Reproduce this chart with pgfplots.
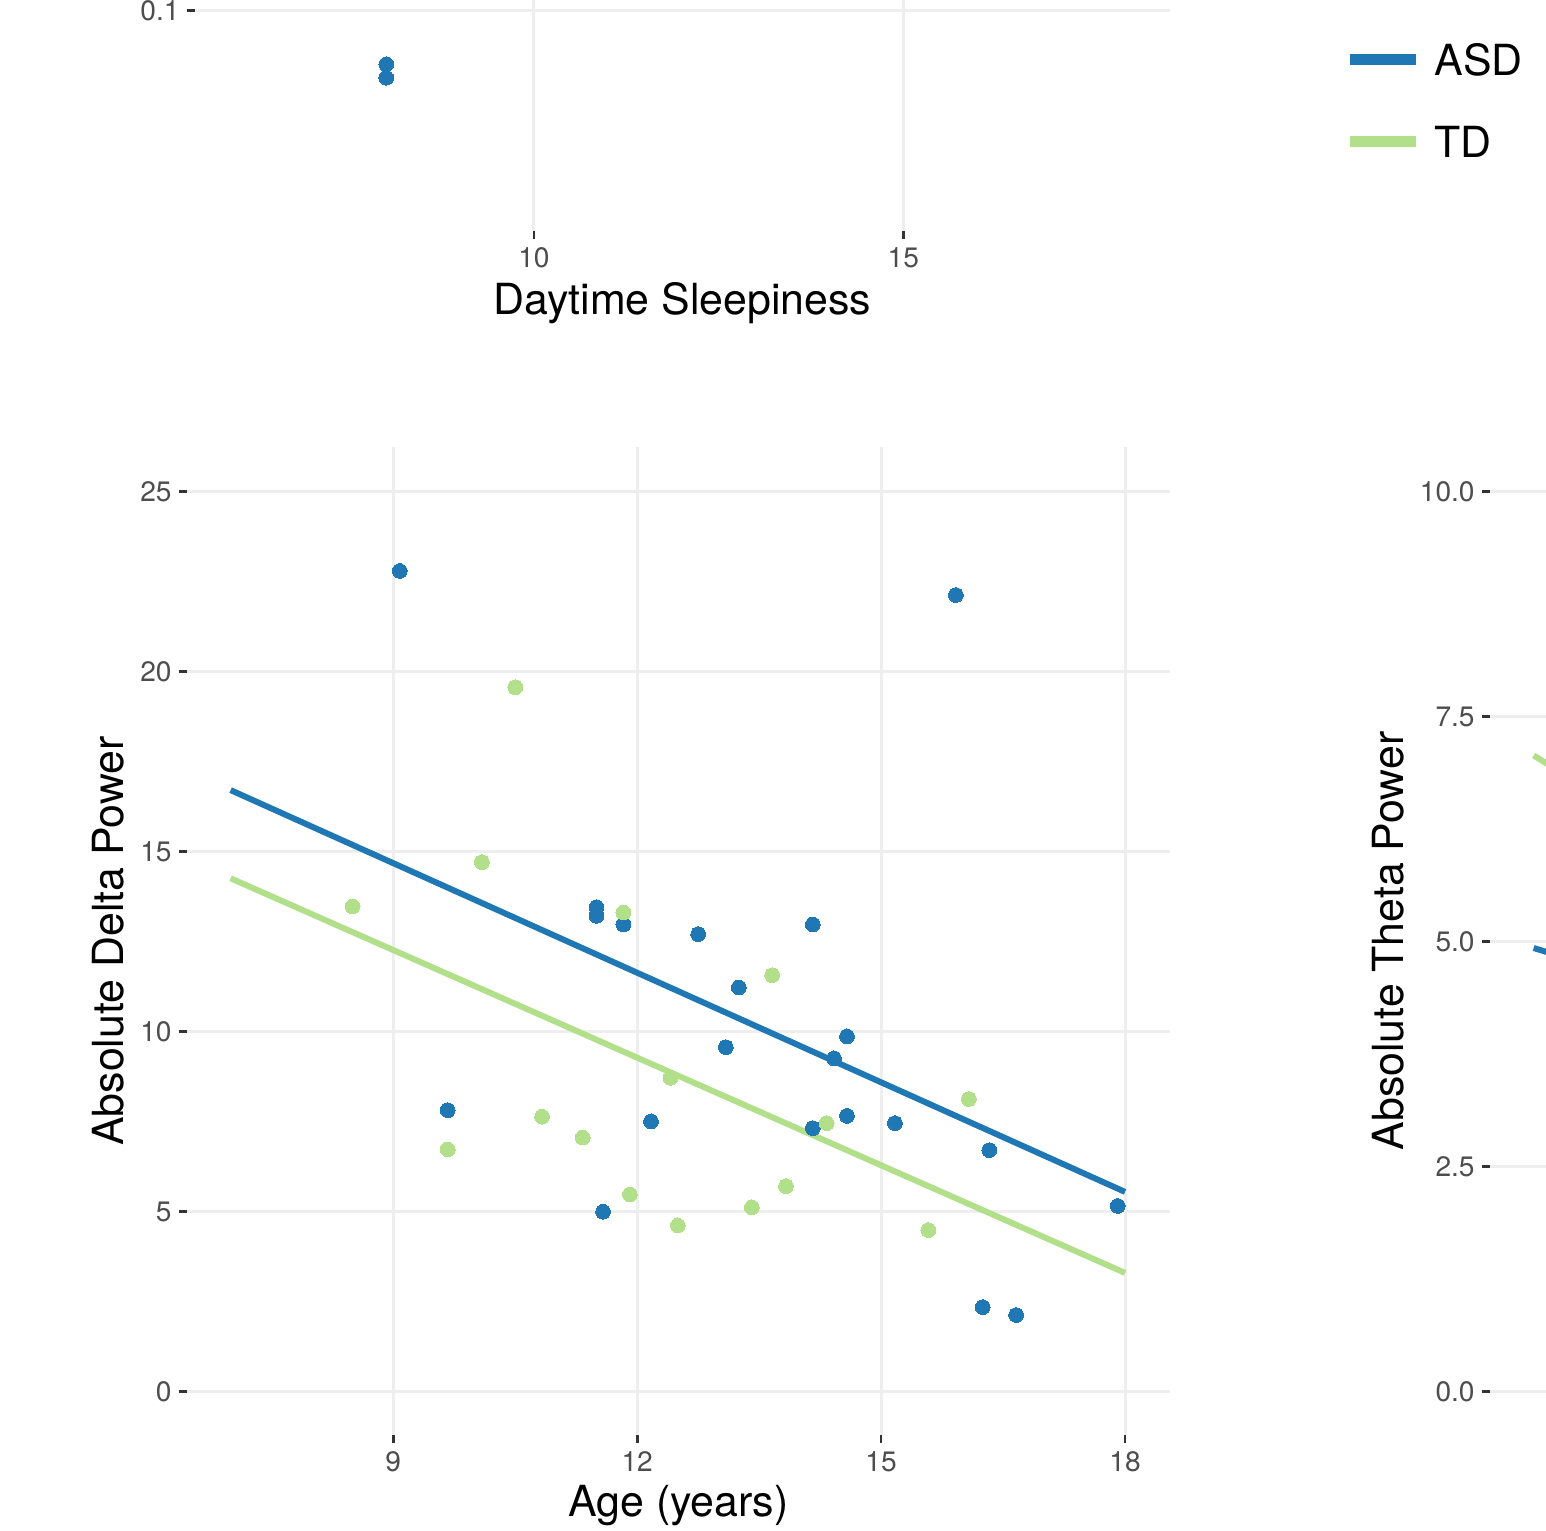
\documentclass[border=0pt]{standalone}
\usepackage{fontspec}
\setmainfont{TeX Gyre Heros}
\usepackage{pgfplots}
\pgfplotsset{compat=1.18}

\definecolor{asd}{HTML}{1F78B4}
\definecolor{td}{HTML}{B2DF8A}
\definecolor{gridc}{HTML}{EEEEEE}
\definecolor{ticklab}{HTML}{4D4D4D}
\definecolor{tickc}{HTML}{333333}

\pgfplotsset{
  gg/.style={
    scale only axis,
    axis line style={draw=none},
    grid=major,
    major grid style={gridc, line width=0.85pt},
    tick align=outside,
    xtick pos=bottom, ytick pos=left,
    major tick length=0.08cm,
    tick style={tickc, line width=0.75pt},
    tick label style={font=\fontsize{8}{9}\selectfont, text=ticklab},
    xticklabel style={yshift=0.04cm},
    yticklabel style={xshift=0.05cm},
    /pgf/number format/assume math mode=true,
    label style={font=\fontsize{12.2}{14}\selectfont, text=black},
  },
  pts/.style={only marks, mark=*, mark size=2.1pt, color=#1, mark options={solid, line width=0pt}},
  fit/.style={no marks, line width=1.7pt, color=#1},
}

% points per group (age, absolute delta power)
\pgfplotstableread{
x y
9.08 22.80
15.92 22.13
11.50 13.46
11.50 13.22
11.83 12.98
12.75 12.71
14.16 12.98
13.25 11.23
13.09 9.57
14.58 9.87
14.42 9.26
9.67 7.82
12.17 7.51
14.58 7.66
14.16 7.32
15.17 7.46
11.58 5.00
16.33 6.71
17.91 5.16
16.25 2.35
16.66 2.13
}\asddelta

\pgfplotstableread{
x y
10.50 19.57
10.09 14.71
8.50 13.48
11.83 13.31
13.66 11.57
12.41 8.72
16.08 8.13
9.67 6.73
10.83 7.64
11.33 7.06
11.91 5.48
12.50 4.62
13.41 5.12
13.83 5.71
14.33 7.46
15.58 4.49
}\tddelta

\begin{document}
\begin{tikzpicture}
\useasboundingbox (0,0) rectangle (15.46cm,-15.31cm);
\clip (0,0) rectangle (15.46cm,-15.31cm);

% top panel (daytime sleepiness), mostly cut off
\begin{axis}[gg,
  at={(1.95cm,-2.31cm)}, anchor=south west,
  width=9.75cm, height=2.81cm,
  xmin=5.411, xmax=18.610, ymin=0.07793, ymax=0.10603,
  xtick={10,15}, ytick={0.1},
  xlabel={Daytime Sleepiness},
  xlabel style={at={(axis description cs:0.5,-0.256)}, anchor=center},
  legend style={at={(axis description cs:1.1786,0.6673)}, anchor=north west,
    draw=none, fill=none, font=\fontsize{12.2}{14}\selectfont,
    inner sep=0pt, row sep=0.51cm, column sep=0.13cm,
    nodes={inner sep=0pt, text height=0.31cm, text depth=0pt}},
  legend cell align=left,
  legend image code/.code={\draw[#1] (0cm,0cm) -- (0.66cm,0cm);},
]
\addplot[pts=asd, forget plot] coordinates {(8.0,0.0946) (8.0,0.09326)};
\addlegendimage{asd, line width=3.1pt}
\addlegendentry{ASD}
\addlegendimage{td, line width=3.1pt}
\addlegendentry{TD}
\end{axis}

% main panel: delta power vs age
\begin{axis}[gg,
  at={(1.87cm,-4.47cm)}, anchor=north west,
  width=9.83cm, height=9.88cm,
  xmin=6.463, xmax=18.553, ymin=-1.203, ymax=26.242,
  xtick={9,12,15,18}, ytick={0,5,10,15,20,25},
  xlabel={Age (years)}, ylabel={Absolute Delta Power},
  xlabel style={at={(axis description cs:0.5,-0.0719)}, anchor=center},
  ylabel style={at={(axis description cs:-0.0804,0.5)}, anchor=center},
]
\addplot[pts=asd] table {\asddelta};
\addplot[pts=td] table {\tddelta};
\addplot[fit=asd] coordinates {(7,16.71) (18,5.55)};
\addplot[fit=td] coordinates {(7,14.26) (18,3.30)};
\end{axis}

% right panel: theta power vs age, mostly cut off
\begin{axis}[gg,
  at={(14.90cm,-4.47cm)}, anchor=north west,
  width=9.83cm, height=9.88cm,
  xmin=6.463, xmax=18.553, ymin=-0.481, ymax=10.497,
  xtick={9,12,15,18}, xticklabels={},
  ytick={0,2.5,5,7.5,10},
  yticklabel style={/pgf/number format/.cd, fixed, fixed zerofill, precision=1},
  ylabel={Absolute Theta Power},
  ylabel style={at={(axis description cs:-0.1038,0.5)}, anchor=center},
]
\addplot[fit=asd] coordinates {(7,4.93) (18,1.90)};
\addplot[fit=td] coordinates {(7,7.07) (18,0.90)};
\end{axis}
\end{tikzpicture}
\end{document}
